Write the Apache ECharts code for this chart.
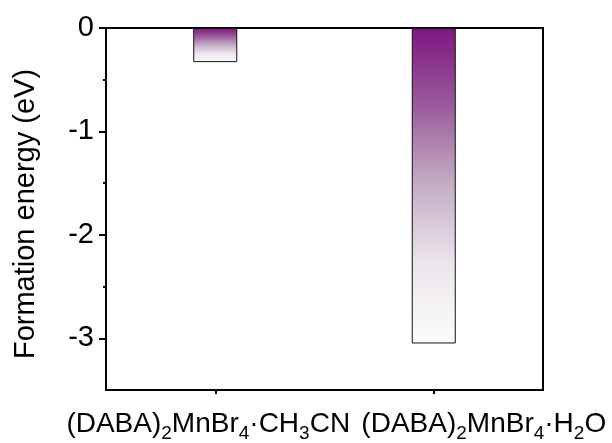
<!DOCTYPE html>
<html>
<head>
<meta charset="utf-8">
<script src="https://cdn.jsdelivr.net/npm/echarts@6/dist/echarts.min.js"></script>
<style>
html,body{margin:0;padding:0;background:#fff;}
#c{width:612px;height:443px;}
</style>
</head>
<body>
<div id="c"></div>
<script>
// Data
const categories = ['(DABA){s|2}MnBr{s|4}·CH{s|3}CN', '(DABA){s|2}MnBr{s|4}·H{s|2}O'];
const formationEnergy = [-0.33, -3.05];
const yMajorTicks = [0, -1, -2, -3];
const yMinorTicks = [-0.5, -1.5, -2.5];
const yMin = -3.5, yMax = 0;

const FONT = 'Liberation Sans, Arial, sans-serif';
const chart = echarts.init(document.getElementById('c'), null, {renderer: 'canvas'});

const barGradient = new echarts.graphic.LinearGradient(0, 0, 0, 1, [
  {offset: 0, color: '#7e1581'},
  {offset: 0.25, color: '#9b5d9c'},
  {offset: 0.5, color: '#c5aec6'},
  {offset: 0.75, color: '#ece6ec'},
  {offset: 1, color: '#fcfcfc'}
]);

// label offsets (padding) so each label sits where the reference puts it
const labelPads = [[0, 14, 0, 0], [0, 0, 0, 100]];

chart.setOption({
  animation: false,
  backgroundColor: '#fff',
  grid: {left: 106, right: 69, top: 28, bottom: 49, show: true, borderColor: '#000', borderWidth: 2, backgroundColor: 'transparent'},
  xAxis: {
    type: 'category',
    data: categories.map((c, i) => ({value: c, textStyle: {padding: labelPads[i]}})),
    position: 'bottom',
    axisLine: {show: true, onZero: false, lineStyle: {color: '#000', width: 2}},
    axisTick: {show: true, alignWithLabel: true, length: 4, lineStyle: {color: '#000', width: 2}},
    axisLabel: {
      color: '#000', fontFamily: FONT, fontSize: 28, margin: 15, interval: 0,
      lineHeight: 38, hideOverlap: false,
      rich: {
        s: {fontFamily: FONT, fontSize: 19, color: '#000', verticalAlign: 'bottom', lineHeight: 19}
      }
    },
    splitLine: {show: false}
  },
  yAxis: [{
    type: 'value',
    min: yMin, max: yMax,
    name: 'Formation energy (eV)',
    nameLocation: 'middle',
    nameGap: 66,
    nameTextStyle: {color: '#000', fontFamily: FONT, fontSize: 29, padding: [0, 10, 0, 0]},
    axisLine: {show: true, lineStyle: {color: '#000', width: 2}},
    axisTick: {show: true, length: 7, customValues: yMajorTicks, lineStyle: {color: '#000', width: 2}},
    axisLabel: {show: true, customValues: yMajorTicks, color: '#000', fontFamily: FONT, fontSize: 29, margin: 12},
    splitLine: {show: false}
  }, {
    type: 'value',
    min: yMin, max: yMax,
    position: 'left',
    axisLine: {show: false},
    axisTick: {show: true, length: 3, customValues: yMinorTicks, lineStyle: {color: '#000', width: 2}},
    axisLabel: {show: false},
    splitLine: {show: false}
  }],
  series: [{
    type: 'bar',
    data: formationEnergy,
    barWidth: 44,
    itemStyle: {color: barGradient, borderColor: '#111', borderWidth: 1}
  }]
});
</script>
</body>
</html>
